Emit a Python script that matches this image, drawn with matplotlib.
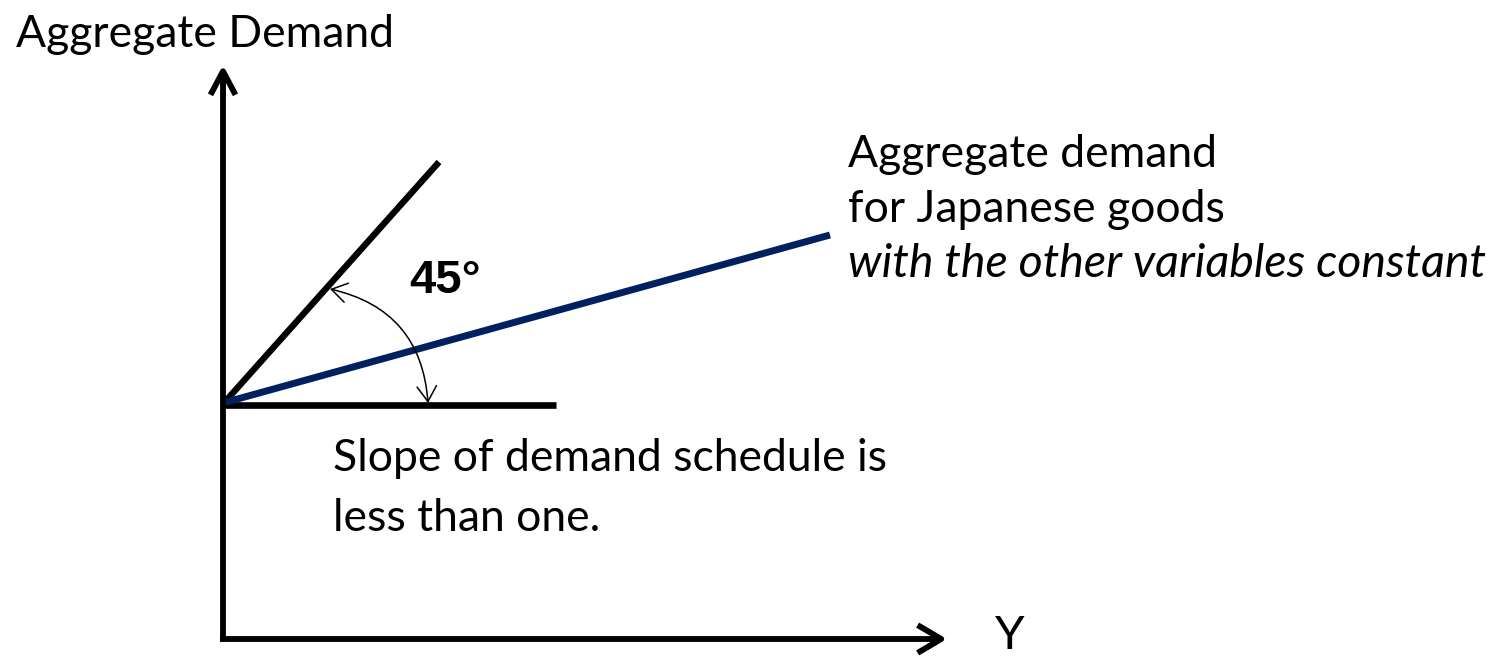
import matplotlib
matplotlib.use("Agg")
import matplotlib.pyplot as plt

# diagram coordinates: origin at the corner of the axes, units ~ pixels
axis_top = 574          # end of the vertical (AD) axis
axis_right = 724        # end of the horizontal (Y) axis
line45_x = [0, 216]
line45_y = [235, 477]
flat_x = [0, 333]
flat_y = [234, 234]
demand_x = [0, 607]
demand_y = [236, 404]
arc_from = (107, 350)   # on the 45-degree line
arc_to = (205, 236)     # on the flat line

NAVY = "#002060"
FONT = "Lato"

fig = plt.figure(figsize=(15.06, 6.58), dpi=100)
ax = fig.add_axes([0, 0, 1, 1])
ax.set_xlim(-223, 1506 - 223)
ax.set_ylim(-19, 639)
ax.axis("off")

# axes with open arrowheads
ax.annotate("", xy=(0, axis_top), xytext=(0, -2),
            arrowprops=dict(arrowstyle="->,head_length=17,head_width=9",
                            lw=4.2, color="black", mutation_scale=1,
                            shrinkA=0, shrinkB=0, joinstyle="round", capstyle="butt"))
ax.annotate("", xy=(axis_right, 0), xytext=(-3, 0),
            arrowprops=dict(arrowstyle="->,head_length=17,head_width=10",
                            lw=4.2, color="black", mutation_scale=1,
                            shrinkA=0, shrinkB=0, joinstyle="round", capstyle="butt"))

ax.plot(line45_x, line45_y, color="black", lw=4.6, solid_capstyle="butt")
ax.plot(flat_x, flat_y, color="black", lw=4.8, solid_capstyle="butt")
ax.plot(demand_x, demand_y, color=NAVY, lw=5.0, solid_capstyle="butt")

# curved double arrow marking the angle
ax.annotate("", xy=arc_to, xytext=arc_from,
            arrowprops=dict(arrowstyle="<->,head_length=11,head_width=7",
                            mutation_scale=1, lw=1.1, color="black",
                            shrinkA=0, shrinkB=0,
                            connectionstyle="arc3,rad=-0.37"))

ax.text(186, 346, "45°", fontsize=34, fontweight="bold",
        family="Liberation Sans", ha="left", va="baseline")

ax.text(-207, 592, "Aggregate Demand", fontsize=32, family=FONT,
        ha="left", va="baseline")
ax.text(772, -18, "Y", fontsize=34, family=FONT, ha="left", va="bottom")

ax.text(625, 472, "Aggregate demand", fontsize=32, family=FONT,
        ha="left", va="baseline")
ax.text(625, 417, "for Japanese goods", fontsize=32, family=FONT,
        ha="left", va="baseline")
ax.text(625, 362, "with the other variables constant", fontsize=33.5,
        family=FONT, style="italic", ha="left", va="baseline")

ax.text(110, 168, "Slope of demand schedule is", fontsize=32, family=FONT,
        ha="left", va="baseline")
ax.text(110, 108, "less than one.", fontsize=32, family=FONT,
        ha="left", va="baseline")

fig.savefig("out.png", dpi=100)
